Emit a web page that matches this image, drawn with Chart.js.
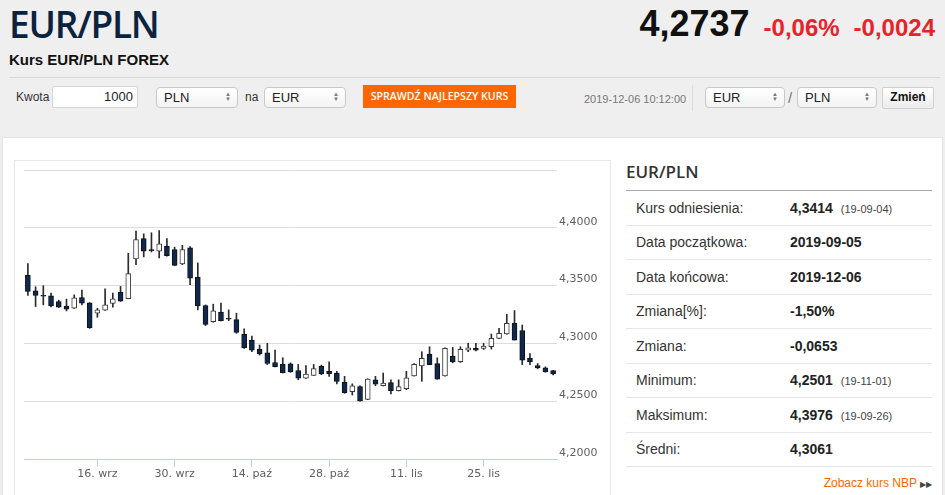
<!DOCTYPE html>
<html lang="pl">
<head>
<meta charset="utf-8">
<title>EUR/PLN</title>
<script src="https://cdn.jsdelivr.net/npm/chart.js@4"></script>
<style>
  html, body { margin: 0; padding: 0; }
  body { width: 945px; height: 495px; background: #efefef; position: relative; overflow: hidden;
         font-family: "Liberation Sans", Arial, sans-serif; color: #333; }
  .abs { position: absolute; white-space: nowrap; }
  .pair { left: 9px; top: 5px; font: 600 37px/37px "Open Sans", sans-serif; color: #0c2340; letter-spacing: -1.2px; }
  .sub { left: 9px; top: 52px; font: bold 15px/15px "Liberation Sans", Arial, sans-serif; color: #111; }
  .hr { left: 9px; top: 77px; width: 931px; height: 1px; background: #d9d9d9; }
  .price { right: 10px; top: 4px; font: bold 36px/40px "Liberation Sans", Arial, sans-serif; color: #111; }
  .price span { color: #e5232b; font-size: 24px; margin-left: 14px; }
  .lbl { font-size: 12px; line-height: 22px; color: #333; }
  .inp { background: #fff; border: 1px solid #d6d6d6; border-radius: 2px; font-size: 13px; line-height: 20px;
         text-align: right; padding-right: 4px; box-sizing: border-box; color: #222; }
  .sel { background: linear-gradient(#fff, #f3f3f3); border: 1px solid #c8c8c8; border-radius: 4px; box-sizing: border-box;
         font-size: 13px; line-height: 19px; padding-left: 7px; color: #222; }
  .sel i { position: absolute; right: 6px; top: 4px; font-style: normal; font-size: 6px; line-height: 5px; color: #777; }
  .btn { background: #ff6600; color: #fff; font: 600 10.6px/23px "Open Sans", sans-serif; text-align: center; }
  .stamp { font-size: 11px; color: #777; line-height: 22px; }
  .zm { background: linear-gradient(#fff, #ececec); border: 1px solid #cfcfcf; border-radius: 2px; box-sizing: border-box;
        font: bold 12px/19px "Liberation Sans", Arial, sans-serif; text-align: center; color: #111; }
  .panel { left: 2px; top: 137px; width: 941px; height: 370px; background: #fff; border: 1px solid #e4e4e4; box-sizing: border-box; }
  .box { left: 14px; top: 160px; width: 597px; height: 345px; border: 1px solid #e8e8e8; box-sizing: border-box; }
  #chart { position: absolute; left: 14px; top: 160px; }
  .thead { left: 626px; top: 162px; font: 600 17px/20px "Open Sans", sans-serif; color: #333; }
  .tline { left: 626px; top: 190px; width: 306px; height: 1px; background: #a8a8a8; }
  table { position: absolute; left: 626px; top: 191px; width: 306px; border-collapse: collapse; }
  td { height: 33.5px; border-bottom: 1px solid #e6e6e6; font-size: 14px; padding: 0; vertical-align: middle; }
  td:first-child { padding-left: 10px; width: 154px; color: #333; }
  td b { color: #222; }
  td small { font-size: 11px; color: #444; margin-left: 8px; }
  .nbp { right: 13px; top: 476px; font-size: 12px; color: #ff6600; }
  .nbp span { color: #444; font-size: 8px; margin-left: 3px; }
</style>
</head>
<body>
<div class="abs pair">EUR/PLN</div>
<div class="abs sub">Kurs EUR/PLN FOREX</div>
<div class="abs price">4,2737<span>-0,06%</span><span>-0,0024</span></div>
<div class="abs hr"></div>

<div class="abs lbl" style="left:16px;top:86px">Kwota</div>
<div class="abs inp" style="left:52px;top:86px;width:86px;height:22px">1000</div>
<div class="abs sel" style="left:156px;top:87px;width:82px;height:21px">PLN<i>▲<br>▼</i></div>
<div class="abs lbl" style="left:245px;top:86px">na</div>
<div class="abs sel" style="left:264px;top:87px;width:82px;height:21px">EUR<i>▲<br>▼</i></div>
<div class="abs btn" style="left:363px;top:85px;width:153px;height:23px">SPRAWDŹ NAJLEPSZY KURS</div>
<div class="abs stamp" style="left:584px;top:88px">2019-12-06 10:12:00</div>
<div class="abs" style="left:692px;top:85px;width:1px;height:26px;background:#dcdcdc"></div>
<div class="abs sel" style="left:705px;top:87px;width:80px;height:21px">EUR<i>▲<br>▼</i></div>
<div class="abs lbl" style="left:788px;top:87px;font-size:15px;color:#777">/</div>
<div class="abs sel" style="left:797px;top:87px;width:80px;height:21px">PLN<i>▲<br>▼</i></div>
<div class="abs zm" style="left:882px;top:87px;width:52px;height:22px">Zmień</div>

<div class="abs panel"></div>
<div class="abs box"></div>
<canvas id="chart" width="597" height="335"></canvas>

<div class="abs thead">EUR/PLN</div>
<div class="abs tline"></div>
<table>
  <tr><td>Kurs odniesienia:</td><td><b>4,3414</b><small>(19-09-04)</small></td></tr>
  <tr><td>Data początkowa:</td><td><b>2019-09-05</b></td></tr>
  <tr><td>Data końcowa:</td><td><b>2019-12-06</b></td></tr>
  <tr><td>Zmiana[%]:</td><td><b>-1,50%</b></td></tr>
  <tr><td>Zmiana:</td><td><b>-0,0653</b></td></tr>
  <tr><td>Minimum:</td><td><b>4,2501</b><small>(19-11-01)</small></td></tr>
  <tr><td>Maksimum:</td><td><b>4,3976</b><small>(19-09-26)</small></td></tr>
  <tr><td>Średni:</td><td><b>4,3061</b></td></tr>
</table>
<div class="abs nbp">Zobacz kurs NBP<span>▶▶</span></div>

<script>
// sesje EUR/PLN, 2019-09-03 .. 2019-12-06
const dates = [
  '2019-09-03','2019-09-04','2019-09-05','2019-09-06',
  '2019-09-09','2019-09-10','2019-09-11','2019-09-12','2019-09-13',
  '2019-09-16','2019-09-17','2019-09-18','2019-09-19','2019-09-20',
  '2019-09-23','2019-09-24','2019-09-25','2019-09-26','2019-09-27',
  '2019-09-30','2019-10-01','2019-10-02','2019-10-03','2019-10-04',
  '2019-10-07','2019-10-08','2019-10-09','2019-10-10','2019-10-11',
  '2019-10-14','2019-10-15','2019-10-16','2019-10-17','2019-10-18',
  '2019-10-21','2019-10-22','2019-10-23','2019-10-24','2019-10-25',
  '2019-10-28','2019-10-29','2019-10-30','2019-10-31','2019-11-01',
  '2019-11-04','2019-11-05','2019-11-06','2019-11-07','2019-11-08',
  '2019-11-11','2019-11-12','2019-11-13','2019-11-14','2019-11-15',
  '2019-11-18','2019-11-19','2019-11-20','2019-11-21','2019-11-22',
  '2019-11-25','2019-11-26','2019-11-27','2019-11-28','2019-11-29',
  '2019-12-02','2019-12-03','2019-12-04','2019-12-05','2019-12-06'
];

const opens = [
  4.3588, 4.3455, 4.3412, 4.3412,
  4.3362, 4.3322, 4.3304, 4.3397, 4.3351,
  4.3261, 4.3287, 4.3345, 4.3443, 4.3388,
  4.3730, 4.3907, 4.3806, 4.3797, 4.3841,
  4.3812, 4.3687, 4.3826, 4.3571, 4.3328,
  4.3188, 4.3270, 4.3214, 4.3206, 4.3078,
  4.3029, 4.2948, 4.2919, 4.2835, 4.2820,
  4.2824, 4.2765, 4.2700, 4.2724, 4.2803,
  4.2759, 4.2744, 4.2665, 4.2582, 4.2626,
  4.2515, 4.2685, 4.2635, 4.2662, 4.2591,
  4.2609, 4.2719, 4.2806, 4.2907, 4.2826,
  4.2719, 4.2890, 4.2841, 4.2942, 4.2957,
  4.2957, 4.2971, 4.3043, 4.3081, 4.3174,
  4.3110, 4.2870, 4.2809, 4.2788, 4.2765
];
const highs = [
  4.3690, 4.3490, 4.3499, 4.3435,
  4.3374, 4.3383, 4.3420, 4.3461, 4.3353,
  4.3304, 4.3472, 4.3435, 4.3493, 4.3780,
  4.3971, 4.3948, 4.3957, 4.3976, 4.3907,
  4.3832, 4.3849, 4.3838, 4.3696, 4.3333,
  4.3339, 4.3348, 4.3290, 4.3261, 4.3125,
  4.3064, 4.2986, 4.3000, 4.2942, 4.2876,
  4.2832, 4.2818, 4.2809, 4.2818, 4.2812,
  4.2841, 4.2759, 4.2715, 4.2650, 4.2632,
  4.2694, 4.2715, 4.2744, 4.2685, 4.2685,
  4.2759, 4.2826, 4.2928, 4.2971, 4.2875,
  4.2962, 4.2965, 4.2971, 4.3000, 4.3000,
  4.3000, 4.3081, 4.3130, 4.3252, 4.3284,
  4.3159, 4.2913, 4.2826, 4.2797, 4.2768
];
const lows = [
  4.3414, 4.3319, 4.3333, 4.3316,
  4.3310, 4.3281, 4.3302, 4.3333, 4.3130,
  4.3226, 4.3285, 4.3313, 4.3363, 4.3386,
  4.3681, 4.3748, 4.3791, 4.3739, 4.3755,
  4.3673, 4.3681, 4.3507, 4.3290, 4.3154,
  4.3183, 4.3194, 4.3197, 4.3087, 4.2957,
  4.2928, 4.2899, 4.2817, 4.2797, 4.2744,
  4.2750, 4.2685, 4.2697, 4.2722, 4.2729,
  4.2715, 4.2650, 4.2568, 4.2553, 4.2501,
  4.2513, 4.2635, 4.2632, 4.2562, 4.2588,
  4.2600, 4.2716, 4.2672, 4.2817, 4.2690,
  4.2717, 4.2832, 4.2835, 4.2928, 4.2936,
  4.2948, 4.2951, 4.3041, 4.3079, 4.3029,
  4.2817, 4.2817, 4.2780, 4.2751, 4.2728
];
const closes = [
  4.3449, 4.3414, 4.3408, 4.3325,
  4.3313, 4.3296, 4.3394, 4.3348, 4.3136,
  4.3290, 4.3333, 4.3386, 4.3365, 4.3603,
  4.3899, 4.3797, 4.3803, 4.3861, 4.3759,
  4.3675, 4.3812, 4.3565, 4.3325, 4.3165,
  4.3281, 4.3197, 4.3209, 4.3096, 4.2962,
  4.2942, 4.2910, 4.2826, 4.2799, 4.2746,
  4.2753, 4.2700, 4.2735, 4.2782, 4.2735,
  4.2738, 4.2671, 4.2574, 4.2632, 4.2503,
  4.2691, 4.2647, 4.2656, 4.2591, 4.2626,
  4.2703, 4.2820, 4.2870, 4.2817, 4.2690,
  4.2957, 4.2841, 4.2948, 4.2962, 4.2942,
  4.2977, 4.3043, 4.3087, 4.3174, 4.3029,
  4.2855, 4.2841, 4.2788, 4.2754, 4.2737
];

// etykiety osi X
const tickDates = ['2019-09-16', '2019-09-30', '2019-10-14', '2019-10-28', '2019-11-11', '2019-11-25'];
const tickTexts = ['16. wrz', '30. wrz', '14. paź', '28. paź', '11. lis', '25. lis'];

// oś Y
const yMin = 4.20;
const yMax = 4.45;
const yStep = 0.05;

const tickLabelFor = i => {
  const k = tickDates.indexOf(dates[i]);
  return k >= 0 ? tickTexts[k] : '';
};

const axisFont = { family: 'DejaVu Sans', size: 11 };

new Chart(document.getElementById('chart'), {
  type: 'bar',
  data: {
    labels: dates,
    datasets: [
      {
        // korpusy świec
        data: opens.map((o, i) => [o, closes[i]]),
        backgroundColor: opens.map((o, i) => closes[i] >= o ? '#ffffff' : '#0d2a4e'),
        borderColor: opens.map((o, i) => closes[i] >= o ? '#3a3a3a' : '#111111'),
        borderWidth: 1,
        borderSkipped: false,
        barThickness: 5,
        minBarLength: 1,
        grouped: false
      },
      {
        // knoty
        data: lows.map((l, i) => [l, highs[i]]),
        backgroundColor: '#2b2b2b',
        barThickness: 1,
        grouped: false
      }
    ]
  },
  options: {
    responsive: false,
    animation: false,
    layout: { padding: { left: 10, top: 10, right: 0, bottom: 0 } },
    plugins: {
      legend: { display: false },
      tooltip: { enabled: false }
    },
    scales: {
      x: {
        offset: true,
        border: { display: true, color: '#c0d0e0', width: 1 },
        grid: {
          offset: false,
          drawOnChartArea: false,
          drawTicks: true,
          tickLength: 8,
          color: ctx => tickLabelFor(ctx.index) ? '#c0d0e0' : 'rgba(0,0,0,0)'
        },
        ticks: {
          autoSkip: false,
          maxRotation: 0,
          minRotation: 0,
          padding: 1,
          color: '#606060',
          font: axisFont,
          callback: (value, index) => tickLabelFor(index)
        },
        afterFit: scale => { scale.height = 36; }
      },
      y: {
        position: 'right',
        min: yMin,
        max: yMax,
        border: { display: false },
        grid: { color: '#dddddd', drawTicks: false },
        ticks: {
          stepSize: yStep,
          padding: 2,
          labelOffset: -6,
          color: '#606060',
          font: axisFont,
          callback: v => v > yMax - yStep / 2 ? '' : v.toFixed(4).replace('.', ',')
        },
        afterFit: scale => { scale.width = 54; }
      }
    }
  }
});
</script>
</body>
</html>
